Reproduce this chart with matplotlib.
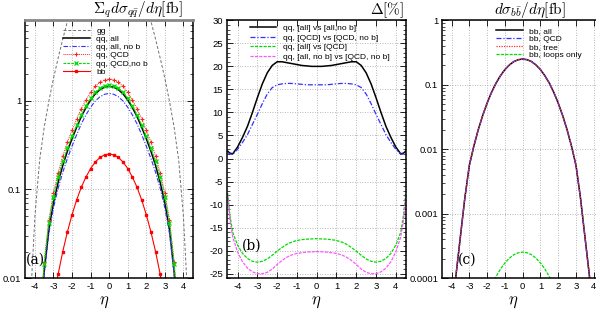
import matplotlib.pyplot as plt
from matplotlib.ticker import LogLocator, NullFormatter, MultipleLocator

plt.rcParams['font.family'] = 'Liberation Sans'
plt.rcParams['mathtext.fontset'] = 'cm'
plt.rcParams['axes.unicode_minus'] = False

# ---- data ----
# panel (a): sum over q of dsigma/deta [fb]
eta_qq = [-3.75, -3.5, -3.25, -3.0, -2.75, -2.5, -2.25, -2.0, -1.75, -1.5, -1.25, -1.0, -0.75, -0.5, -0.25, 0.0,
          0.25, 0.5, 0.75, 1.0, 1.25, 1.5, 1.75, 2.0, 2.25, 2.5, 2.75, 3.0, 3.25, 3.5, 3.75]
qq_all = [0.0025, 0.0120, 0.0355, 0.0708, 0.120, 0.186, 0.269, 0.372, 0.501, 0.661, 0.832, 1.014, 1.189, 1.324, 1.413, 1.445,
          1.413, 1.324, 1.189, 1.014, 0.832, 0.661, 0.501, 0.372, 0.269, 0.186, 0.120, 0.0708, 0.0355, 0.0120, 0.0025]
qq_all_nob = [0.0024, 0.0111, 0.0320, 0.0621, 0.103, 0.156, 0.223, 0.307, 0.414, 0.547, 0.690, 0.841, 0.988, 1.101, 1.177, 1.203,
              1.177, 1.101, 0.988, 0.841, 0.690, 0.547, 0.414, 0.307, 0.223, 0.156, 0.103, 0.0621, 0.0320, 0.0111, 0.0024]
qq_qcd = [0.0031, 0.0153, 0.0457, 0.0914, 0.154, 0.238, 0.341, 0.466, 0.621, 0.812, 1.016, 1.234, 1.443, 1.605, 1.712, 1.749,
          1.712, 1.605, 1.443, 1.234, 1.016, 0.812, 0.621, 0.466, 0.341, 0.238, 0.154, 0.0914, 0.0457, 0.0153, 0.0031]
qq_qcd_nob = [0.0031, 0.0146, 0.0424, 0.0828, 0.137, 0.207, 0.293, 0.399, 0.531, 0.696, 0.872, 1.059, 1.242, 1.381, 1.476, 1.508,
              1.476, 1.381, 1.242, 1.059, 0.872, 0.696, 0.531, 0.399, 0.293, 0.207, 0.137, 0.0828, 0.0424, 0.0146, 0.0031]

eta_gg = [-4.25, -4.0, -3.75, -3.5, -3.25, -3.0, -2.75, -2.5, -2.25, -2.0, -1.75, -1.5, -1.25, -1.0, -0.75, -0.5, -0.25, 0.0,
          0.25, 0.5, 0.75, 1.0, 1.25, 1.5, 1.75, 2.0, 2.25, 2.5, 2.75, 3.0, 3.25, 3.5, 3.75, 4.0, 4.25]
gg = [0.005, 0.050, 0.21, 0.50, 0.98, 1.78, 3.0, 4.9, 7.8, 12.5, 19, 27, 37, 48, 60, 71, 80, 83,
      80, 71, 60, 48, 37, 27, 19, 12.5, 7.8, 4.9, 3.0, 1.78, 0.98, 0.50, 0.21, 0.050, 0.005]

# bb, shared by panels (a) and (c)
eta_bb = [-4.0, -3.75, -3.5, -3.25, -3.0, -2.75, -2.5, -2.25, -2.0, -1.75, -1.5, -1.25, -1.0, -0.75, -0.5, -0.25, 0.0,
          0.25, 0.5, 0.75, 1.0, 1.25, 1.5, 1.75, 2.0, 2.25, 2.5, 2.75, 3.0, 3.25, 3.5, 3.75, 4.0]
bb_all = [0.00002, 0.000112, 0.000447, 0.00178, 0.0056, 0.0111, 0.0200, 0.0333, 0.052, 0.0764, 0.106, 0.138, 0.172, 0.203, 0.229, 0.245, 0.251,
          0.245, 0.229, 0.203, 0.172, 0.138, 0.106, 0.0764, 0.052, 0.0333, 0.0200, 0.0111, 0.0056, 0.00178, 0.000447, 0.000112, 0.00002]
bb_qcd = bb_all
bb_tree = bb_all

eta_loop = [-2.0, -1.75, -1.5, -1.25, -1.0, -0.75, -0.5, -0.25, 0.0, 0.25, 0.5, 0.75, 1.0, 1.25, 1.5, 1.75, 2.0]
bb_loops = [5.4e-5, 7.8e-5, 1.06e-4, 1.39e-4, 1.73e-4, 2.05e-4, 2.32e-4, 2.49e-4, 2.55e-4,
            2.49e-4, 2.32e-4, 2.05e-4, 1.73e-4, 1.39e-4, 1.06e-4, 7.8e-5, 5.4e-5]

# panel (b): relative differences in %
eta_d = [-4.5, -4.4, -4.25, -4.0, -3.75, -3.5, -3.25, -3.0, -2.75, -2.5, -2.25, -2.0, -1.75, -1.5, -1.25, -1.0, -0.75, -0.5, -0.25, 0.0,
         0.25, 0.5, 0.75, 1.0, 1.25, 1.5, 1.75, 2.0, 2.25, 2.5, 2.75, 3.0, 3.25, 3.5, 3.75, 4.0, 4.25, 4.4, 4.5]
d_all_nob = [1.6, 1.2, 1.0, 2.5, 4.6, 7.0, 10.0, 13.2, 16.2, 18.6, 20.2, 21.0, 21.0, 20.8, 20.6, 20.4, 20.2, 20.1, 20.0, 20.0,
             20.0, 20.1, 20.2, 20.4, 20.6, 20.8, 21.0, 21.0, 20.2, 18.6, 16.2, 13.2, 10.0, 7.0, 4.6, 2.5, 1.0, 1.2, 1.6]
d_qcd_nob = [1.3, 1.0, 0.9, 2.0, 3.5, 5.2, 7.4, 9.6, 11.9, 14.0, 15.4, 16.0, 16.2, 16.3, 16.3, 16.2, 16.1, 16.0, 16.0, 16.0,
             16.0, 16.0, 16.1, 16.2, 16.3, 16.3, 16.2, 16.0, 15.4, 14.0, 11.9, 9.6, 7.4, 5.2, 3.5, 2.0, 0.9, 1.0, 1.3]
d_all_qcd = [-7.5, -12.0, -16.0, -18.8, -20.6, -21.7, -22.3, -22.5, -22.3, -21.8, -21.0, -20.1, -19.3, -18.6, -18.1, -17.8, -17.6, -17.5, -17.45, -17.4,
             -17.45, -17.5, -17.6, -17.8, -18.1, -18.6, -19.3, -20.1, -21.0, -21.8, -22.3, -22.5, -22.3, -21.7, -20.6, -18.8, -16.0, -12.0, -7.5]
d_nob_qcd = [-8.0, -13.0, -17.0, -20.3, -22.4, -23.8, -24.6, -25.0, -25.0, -24.7, -24.0, -23.0, -22.1, -21.4, -20.9, -20.6, -20.45, -20.3, -20.25, -20.2,
             -20.25, -20.3, -20.45, -20.6, -20.9, -21.4, -22.1, -23.0, -24.0, -24.7, -25.0, -25.0, -24.6, -23.8, -22.4, -20.3, -17.0, -13.0, -8.0]

eta_ticks = [-4, -3, -2, -1, 0, 1, 2, 3, 4]

GRID = dict(color='#a0a0a0', ls=(0, (1, 2)), lw=0.6)
LEG = dict(loc='upper left', frameon=False, fontsize=6.0, handlelength=3.2, handletextpad=0.8,
           borderpad=0, borderaxespad=0, numpoints=1)


def style(ax):
    ax.set_xlim(-4.52, 4.5)
    ax.set_xticks(eta_ticks)
    ax.set_xticklabels([str(t) for t in eta_ticks])
    ax.tick_params(which='both', direction='in', top=True, right=True, labelsize=6.8, pad=3)
    ax.tick_params(which='major', length=4, width=0.6)
    ax.tick_params(which='minor', length=2, width=0.5)
    ax.grid(True, which='major', **GRID)
    for s in ax.spines.values():
        s.set_linewidth(1.1)


def log_y(ax, lo, hi, ticks, labels):
    ax.set_yscale('log')
    ax.set_ylim(lo, hi)
    ax.set_yticks(ticks)
    ax.set_yticklabels(labels)
    ax.yaxis.set_minor_locator(LogLocator(base=10, subs=range(2, 10)))
    ax.yaxis.set_minor_formatter(NullFormatter())


fig = plt.figure(figsize=(5.96, 3.11), dpi=100)
ax_a = fig.add_axes([0.0424, 0.1051, 0.2809, 0.8296])
ax_b = fig.add_axes([0.3814, 0.1051, 0.2993, 0.8296])
ax_c = fig.add_axes([0.7421, 0.1051, 0.2691, 0.8296])

# ---- (a) ----
ax_a.plot(eta_gg, gg, color='#707070', lw=0.7, ls=(0, (3, 2)), label='gg')
ax_a.plot(eta_qq, qq_all, color='black', lw=1.1, label='qq, all')
ax_a.plot(eta_qq, qq_all_nob, color='#3030ff', lw=0.8, ls=(0, (4, 1.5, 1, 1.5)), label='qq, all, no b')
ax_a.plot(eta_qq, qq_qcd, color='#ff2020', lw=0.7, ls=(0, (1, 1)), marker='+', ms=3, mew=0.8, label='qq, QCD')
ax_a.plot(eta_qq, qq_qcd_nob, color='#00dd00', lw=0.8, ls=(0, (2.5, 1)), marker='x', ms=2.5, mew=0.9, label='qq, QCD,no b')
ax_a.plot(eta_bb, bb_all, color='#ff0000', lw=0.8, marker='s', ms=2, label='bb')
style(ax_a)
log_y(ax_a, 0.01, 8, [0.01, 0.1, 1], ['0.01', '0.1', '1'])
ax_a.spines['top'].set_color('#888888')
ax_a.spines['top'].set_linewidth(2)
ax_a.legend(bbox_to_anchor=(0.225, 0.975), labelspacing=0.05, **LEG)

# ---- (b) ----
ax_b.plot(eta_d, d_all_nob, color='black', lw=1.1, label='qq, [all] vs [all,no b]')
ax_b.plot(eta_d, d_qcd_nob, color='#3030ff', lw=0.9, ls=(0, (4, 1.5, 1, 1.5)), label='qq, [QCD] vs [QCD, no b]')
ax_b.plot(eta_d, d_all_qcd, color='#00dd00', lw=0.9, ls=(0, (2.5, 1)), label='qq, [all] vs [QCD]')
ax_b.plot(eta_d, d_nob_qcd, color='#ff55ff', lw=0.9, ls=(0, (2.5, 1)), label='qq, [all, no b] vs [QCD, no b]')
style(ax_b)
ax_b.set_ylim(-26, 30)
ax_b.set_yticks(range(-25, 31, 5))
ax_b.yaxis.set_minor_locator(MultipleLocator(1))
ax_b.legend(bbox_to_anchor=(0.125, 0.985), labelspacing=0.2, **LEG)

# ---- (c) ----
ax_c.plot(eta_bb, bb_all, color='black', lw=1.1, label='bb, all')
ax_c.plot(eta_bb, bb_qcd, color='#3030ff', lw=0.9, ls=(0, (4, 1.5, 1, 1.5)), label='bb, QCD')
ax_c.plot(eta_bb, bb_tree, color='#ff3030', lw=0.9, ls=(0, (1, 1)), label='bb, tree')
ax_c.plot(eta_loop, bb_loops, color='#00dd00', lw=0.9, ls=(0, (2.5, 1)), label='bb, loops only')
style(ax_c)
log_y(ax_c, 1e-4, 1, [1e-4, 1e-3, 1e-2, 1e-1, 1], ['0.0001', '0.001', '0.01', '0.1', '1'])
ax_c.legend(bbox_to_anchor=(0.335, 0.975), labelspacing=0.05, **LEG)

# ---- titles, eta labels, panel tags ----
W, H = 596.0, 311.0
fig.text(183 / W, 1 - 10 / H, r'$\Sigma_q d\sigma_{q\bar{q}}/d\eta[\mathrm{fb}]$', ha='right', va='center', fontsize=11)
fig.text(404 / W, 1 - 10 / H, r'$\Delta[\%]$', ha='right', va='center', fontsize=11)
fig.text(566 / W, 1 - 10 / H, r'$d\sigma_{b\bar{b}}/d\eta[\mathrm{fb}]$', ha='right', va='center', fontsize=11)
for xc in (104, 316, 513):
    fig.text(xc / W, 1 - 302 / H, r'$\eta$', ha='center', va='center', fontsize=12)
for xc, yc, tag in ((35, 260, '(a)'), (252, 246, '(b)'), (467, 260, '(c)')):
    fig.text(xc / W, 1 - yc / H, tag, ha='center', va='center', fontsize=10, family='DejaVu Serif')

fig.savefig('out.png', dpi=100)
